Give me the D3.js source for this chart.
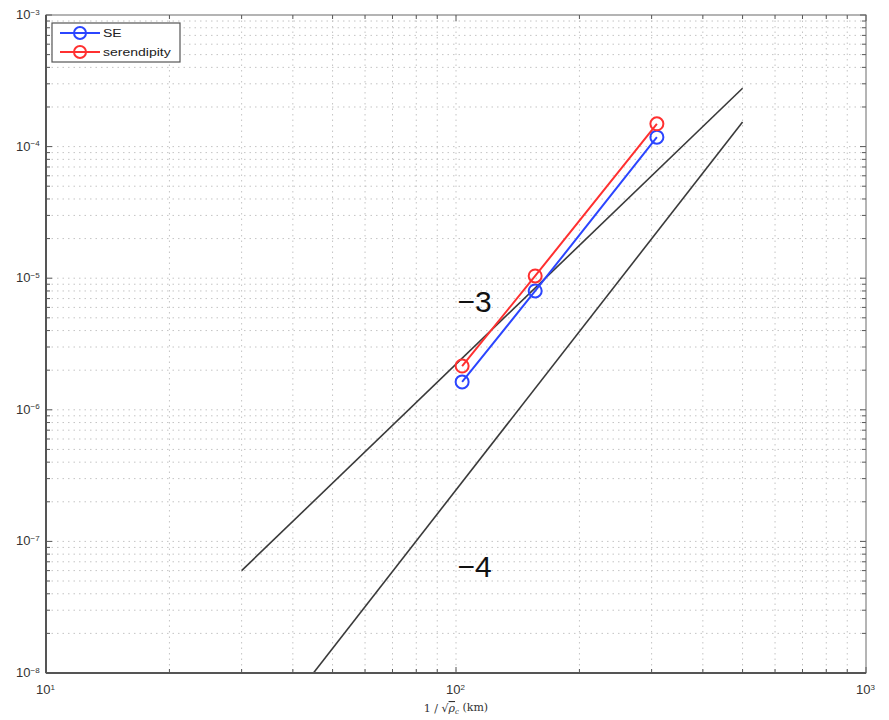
<!DOCTYPE html>
<html>
<head>
<meta charset="utf-8">
<script src="https://cdn.jsdelivr.net/npm/d3@7"></script>
<style>
  body { margin: 0; background: #fff; }
  text { font-family: "Liberation Sans", Arial, sans-serif; }
</style>
</head>
<body>
<div id="chart"></div>
<script>
// data
const resolution = [103.5, 156, 309];
const seError = [1.63e-6, 8.0e-6, 1.18e-4];
const serendipityError = [2.15e-6, 1.04e-5, 1.49e-4];

// reference slopes: y = c * x^p
const refLines = [
  {p: 3, c: 2.22e-12, x0: 30, x1: 500, label: "\u22123", lx: 111, ly: 6.7e-6},
  {p: 4, c: 2.46e-15, x0: 30, x1: 500, label: "\u22124", lx: 111, ly: 6.4e-8}
];

const xTicks = [10, 100, 1000];
const yTicks = [1e-8, 1e-7, 1e-6, 1e-5, 1e-4, 1e-3];

let margin = {top: 15, right: 23, bottom: 47, left: 46};
let width = 889 - margin.left - margin.right;
let height = 720 - margin.top - margin.bottom;

let svg = d3.select("#chart").append("svg")
  .attr("width", 889).attr("height", 720)
  .append("g")
  .attr("transform", "translate(" + margin.left + "," + margin.top + ")");

let x = d3.scaleLog().domain([10, 1000]).range([0, width]);
let y = d3.scaleLog().domain([1e-8, 1e-3]).range([height, 0]);

// minor tick values
let xMinor = [], yMinor = [];
for (let d = 10; d < 1000; d *= 10) for (let k = 1; k < 10; k++) xMinor.push(d * k);
for (let d = 1e-8; d < 1e-3 * 0.99; d *= 10) for (let k = 1; k < 10; k++) yMinor.push(d * k);

// dotted grid
let grid = svg.append("g").attr("class", "grid")
  .attr("stroke", "#c4c4c4").attr("stroke-width", 1).attr("stroke-dasharray", "1.5,4");
grid.selectAll(".gx").data(xMinor.slice(1)).enter().append("line")
  .attr("x1", d => x(d)).attr("x2", d => x(d)).attr("y1", 0).attr("y2", height);
grid.selectAll(".gy").data(yMinor.slice(1)).enter().append("line")
  .attr("y1", d => y(d)).attr("y2", d => y(d)).attr("x1", 0).attr("x2", width);

// clip for the reference lines
svg.append("defs").append("clipPath").attr("id", "clip")
  .append("rect").attr("width", width).attr("height", height);

let line = d3.line().x(d => x(d[0])).y(d => y(d[1]));

svg.append("g").attr("clip-path", "url(#clip)")
  .selectAll(".ref").data(refLines).enter().append("path")
  .attr("class", "ref")
  .attr("fill", "none").attr("stroke", "#3a3a3a").attr("stroke-width", 1.6)
  .attr("d", d => line([[d.x0, d.c * Math.pow(d.x0, d.p)], [d.x1, d.c * Math.pow(d.x1, d.p)]]));

svg.selectAll(".reflabel").data(refLines).enter().append("text")
  .attr("x", d => x(d.lx)).attr("y", d => y(d.ly))
  .attr("text-anchor", "middle").attr("dy", "0.35em")
  .style("font-size", "30px").attr("fill", "#111")
  .text(d => d.label);

// data series
let series = [
  {name: "SE", color: "#2b45ff", values: seError},
  {name: "serendipity", color: "#ff3030", values: serendipityError}
];

series.forEach(s => {
  let pts = resolution.map((r, i) => [r, s.values[i]]);
  svg.append("path").attr("fill", "none").attr("stroke", s.color).attr("stroke-width", 2)
    .attr("d", line(pts));
  svg.selectAll(null).data(pts).enter().append("circle")
    .attr("cx", d => x(d[0])).attr("cy", d => y(d[1])).attr("r", 6.5)
    .attr("fill", "none").attr("stroke", s.color).attr("stroke-width", 2);
});

// axes box with ticks on all four sides
let axisCol = "#555";
let ticks = svg.append("g").attr("stroke", axisCol).attr("stroke-width", 1);
xMinor.concat([1000]).forEach(d => {
  let len = xTicks.includes(d) ? 6 : 4;
  ticks.append("line").attr("x1", x(d)).attr("x2", x(d)).attr("y1", height).attr("y2", height - len);
  ticks.append("line").attr("x1", x(d)).attr("x2", x(d)).attr("y1", 0).attr("y2", len);
});
yMinor.concat([1e-3]).forEach(d => {
  let len = yTicks.some(t => Math.abs(t - d) / t < 1e-6) ? 6 : 4;
  ticks.append("line").attr("y1", y(d)).attr("y2", y(d)).attr("x1", 0).attr("x2", len);
  ticks.append("line").attr("y1", y(d)).attr("y2", y(d)).attr("x1", width).attr("x2", width - len);
});
svg.append("rect").attr("width", width).attr("height", height)
  .attr("fill", "none").attr("stroke", "#6a6a6a").attr("stroke-width", 1);
svg.append("line").attr("x1", 0).attr("x2", 0).attr("y1", 0).attr("y2", height)
  .attr("stroke", axisCol).attr("stroke-width", 2);
svg.append("line").attr("x1", 0).attr("x2", width).attr("y1", height).attr("y2", height)
  .attr("stroke", axisCol).attr("stroke-width", 2);

// tick labels as 10^n
function powLabel(sel, exp) {
  sel.append("tspan").text("10");
  sel.append("tspan").attr("dy", "-0.55em").style("font-size", "8px").text(exp < 0 ? "\u2212" + (-exp) : exp);
}
yTicks.forEach(t => {
  let e = Math.round(Math.log10(t));
  let lab = svg.append("text").attr("x", -30).attr("y", y(t) + 4)
    .style("font-size", "13px").attr("fill", "#333");
  powLabel(lab, e);
});
xTicks.forEach(t => {
  let e = Math.round(Math.log10(t));
  let lab = svg.append("text").attr("x", x(t) - 10).attr("y", height + 21)
    .style("font-size", "13px").attr("fill", "#333");
  powLabel(lab, e);
});

// x axis label
let xl = svg.append("text").attr("x", x(100)).attr("y", height + 39)
  .attr("text-anchor", "middle").attr("fill", "#333")
  .style("font-family", "'DejaVu Serif', 'Liberation Serif', serif").style("font-size", "11px");
xl.append("tspan").text("1 / \u221A");
xl.append("tspan").style("text-decoration", "overline").style("font-style", "italic").text("\u03C1");
xl.append("tspan").attr("dy", "0.3em").style("font-size", "7px").style("font-style", "italic").text("c");
xl.append("tspan").attr("dy", "-0.3em").text(" (km)");

// legend
let legend = svg.append("g").attr("transform", "translate(6,8)");
legend.append("rect").attr("width", 128).attr("height", 39)
  .attr("fill", "#fff").attr("stroke", "#555").attr("stroke-width", 1.2);
series.forEach((s, i) => {
  let g = legend.append("g").attr("transform", "translate(0," + (10 + i * 19) + ")");
  g.append("line").attr("x1", 8).attr("x2", 48).attr("stroke", s.color).attr("stroke-width", 2);
  g.append("circle").attr("cx", 28).attr("r", 6).attr("fill", "none")
    .attr("stroke", s.color).attr("stroke-width", 2);
  g.append("text").attr("transform", "translate(51,0) scale(1.22,1)").attr("dy", "0.35em")
    .style("font-size", "11.5px").attr("fill", "#222").text(s.name);
});
</script>
</body>
</html>
